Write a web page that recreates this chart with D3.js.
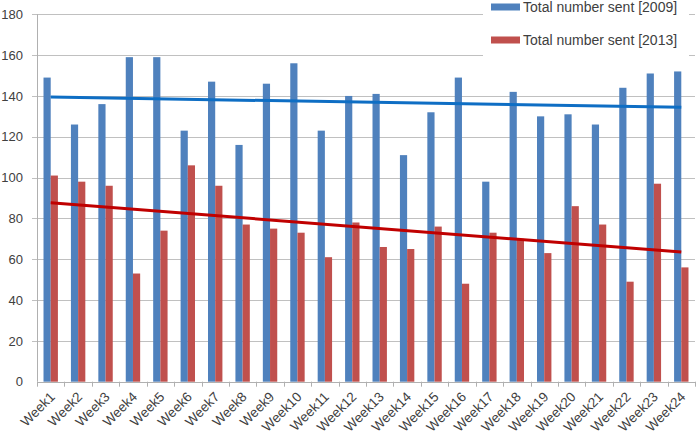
<!DOCTYPE html>
<html>
<head>
<meta charset="utf-8">
<script src="https://cdn.jsdelivr.net/npm/d3@7"></script>
<style>
  body { margin: 0; background: #fff; }
  text { font-family: "Liberation Sans", Arial, sans-serif; fill: #404040; }
</style>
</head>
<body>
<svg id="canvas" width="696" height="436"></svg>
<script>
// data
var weeks = ['Week1','Week2','Week3','Week4','Week5','Week6','Week7','Week8','Week9','Week10','Week11','Week12',
             'Week13','Week14','Week15','Week16','Week17','Week18','Week19','Week20','Week21','Week22','Week23','Week24'];
var sent2009 = [149,126,136,159,159,123,147,116,146,156,123,140,141,111,132,149,98,142,130,131,126,144,151,152];
var sent2013 = [101,98,96,53,74,106,96,77,75,73,61,78,66,65,76,48,73,70,63,86,77,49,97,56];
var seriesNames = ['Total number sent [2009]', 'Total number sent [2013]'];
var yTicks = [0,20,40,60,80,100,120,140,160,180];

var barColors = ['#4f81bd', '#c0504d'];
var trendColors = ['#0e6ec4', '#c00000'];

// ************************************************************************************** //
// Layout

var svg = d3.select('#canvas');
var plot = { left: 37, right: 695, top: 14.3, bottom: 381.7 };

var x = d3.scaleBand().domain(weeks).range([plot.left, plot.right]).paddingInner(0).paddingOuter(0);
var y = d3.scaleLinear().domain([0, 180]).range([plot.bottom, plot.top]);
var barW = 7.2;

// gridlines
svg.append('g').selectAll('line').data(yTicks.slice(1)).enter().append('line')
  .attr('x1', plot.left - 5).attr('x2', plot.right)
  .attr('y1', d => Math.round(y(d)) + 0.5).attr('y2', d => Math.round(y(d)) + 0.5)
  .style('stroke', '#c0c0c0').style('stroke-width', 1);

// y axis labels and ticks
svg.append('g').selectAll('text').data(yTicks).enter().append('text')
  .attr('x', 23).attr('y', d => y(d)).attr('dy', '0.36em')
  .attr('text-anchor', 'end').style('font-size', '13px')
  .text(d => d);

svg.append('line').attr('x1', plot.left + 0.5).attr('x2', plot.left + 0.5)
  .attr('y1', plot.top).attr('y2', plot.bottom)
  .style('stroke', '#b0b0b0');

// bars
var series = [sent2009, sent2013];
series.forEach(function(vals, s){
  svg.append('g').selectAll('rect').data(vals).enter().append('rect')
    .attr('x', (d,i) => x(weeks[i]) + x.bandwidth()/2 - barW + s*barW)
    .attr('width', barW)
    .attr('y', d => y(d))
    .attr('height', d => plot.bottom - y(d))
    .style('fill', barColors[s]);
});

// x axis
svg.append('line').attr('x1', plot.left).attr('x2', plot.right)
  .attr('y1', Math.round(plot.bottom) + 0.5).attr('y2', Math.round(plot.bottom) + 0.5)
  .style('stroke', '#b0b0b0');
var bounds = weeks.map(w => x(w)).concat([plot.right]);
svg.append('g').selectAll('line').data(bounds).enter().append('line')
  .attr('x1', d => Math.round(d) + 0.5).attr('x2', d => Math.round(d) + 0.5)
  .attr('y1', plot.bottom).attr('y2', plot.bottom + 5)
  .style('stroke', '#b0b0b0');

svg.append('g').selectAll('text').data(weeks).enter().append('text')
  .attr('transform', d => 'translate(' + (x(d) + x.bandwidth()/2 + 5) + ',' + (plot.bottom + 16) + ') rotate(-45)')
  .attr('text-anchor', 'end').style('font-size', '13.5px')
  .text(d => d);

// linear trendlines (least squares over the week index)
function trend(vals){
  var n = vals.length, xs = d3.range(1, n + 1);
  var mx = d3.mean(xs), my = d3.mean(vals);
  var b = d3.sum(xs, (xi,i) => (xi - mx)*(vals[i] - my)) / d3.sum(xs, xi => (xi - mx)*(xi - mx));
  var a = my - b*mx;
  return [{ i: 0, v: a + b*1 }, { i: n - 1, v: a + b*n }];
}
var lineGen = d3.line().x(d => x(weeks[d.i]) + x.bandwidth()/2).y(d => y(d.v));
series.forEach(function(vals, s){
  svg.append('path').attr('d', lineGen(trend(vals)))
    .style('fill', 'none').style('stroke', trendColors[s]).style('stroke-width', 3);
});

// legend
svg.append('rect').attr('x', 483).attr('y', 0).attr('width', 206).attr('height', 62).style('fill', '#fff');
var legend = svg.append('g').selectAll('g').data(seriesNames).enter().append('g')
  .attr('transform', (d,i) => 'translate(491,' + (7 + i*33) + ')');
legend.append('rect').attr('x', 0).attr('y', -3.5).attr('width', 29).attr('height', 7)
  .style('fill', (d,i) => barColors[i]);
legend.append('text').attr('x', 32).attr('dy', '0.36em').style('font-size', '14px')
  .text(d => d);
</script>
</body>
</html>
